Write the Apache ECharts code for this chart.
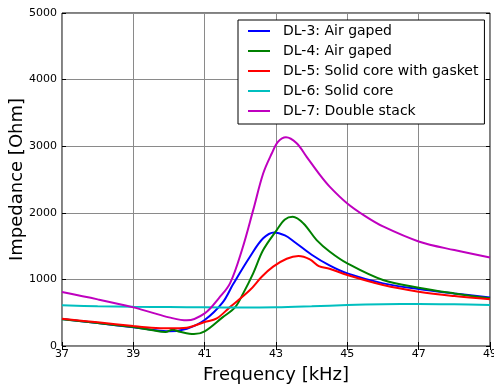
<!DOCTYPE html>
<html>
<head>
<meta charset="utf-8">
<script src="https://cdn.jsdelivr.net/npm/echarts@6/dist/echarts.min.js"></script>
<style>
  html, body { margin: 0; padding: 0; background: #fff; }
  #chart { width: 494px; height: 390px; }
</style>
</head>
<body>
<div id="chart"></div>
<script>
// frequency [kHz], impedance [Ohm]
const dl3 = [
  [37, 405], [38, 345], [39, 280], [39.5, 245], [40, 220], [40.5, 260], [41, 390],
  [41.5, 650], [41.8, 930], [42.27, 1340], [42.64, 1617], [42.95, 1705], [43.25, 1660],
  [43.5, 1570], [44, 1370], [44.5, 1210], [45, 1090], [46, 940], [47, 855], [48, 790], [49, 730]
]
const dl4 = [
  [37, 400], [38, 345], [39, 285], [39.5, 240], [39.9, 210], [40.1, 245], [40.3, 215],
  [40.7, 180], [41, 220], [41.5, 430], [41.85, 580], [42.08, 790], [42.36, 1090], [42.64, 1440],
  [43.02, 1740], [43.25, 1900], [43.47, 1940], [43.77, 1840], [44.14, 1590], [44.51, 1415],
  [45, 1240], [46, 990], [47, 876], [48, 790], [49, 716]
]
const dl5 = [
  [37, 410], [38, 355], [39, 300], [39.5, 275], [40, 265], [40.5, 275], [41, 360],
  [41.34, 415], [41.7, 580], [42.27, 840], [42.6, 1040], [42.92, 1191], [43.3, 1310], [43.63, 1350],
  [43.95, 1300], [44.2, 1200], [44.5, 1160], [45, 1066], [46, 916], [47, 816], [48, 750], [49, 701]
]
const dl6 = [
  [37, 610], [38, 598], [39, 590], [40, 585], [41, 580], [42, 578], [43, 582],
  [44, 597], [45, 615], [46, 628], [47, 632], [48, 626], [49, 615]
]
const dl7 = [
  [37, 810], [38, 700], [39, 580], [39.5, 505], [40, 430], [40.5, 385], [41, 490],
  [41.4, 720], [41.71, 940], [42.05, 1450], [42.36, 2040], [42.64, 2590], [42.88, 2890], [43.06, 3070],
  [43.28, 3135], [43.58, 3045], [43.86, 2840], [44.23, 2570], [44.51, 2390], [45, 2140],
  [45.5, 1950], [46, 1795], [47, 1570], [48, 1440], [49, 1330]
]
const names = [
  'DL-3: Air gaped', 'DL-4: Air gaped', 'DL-5: Solid core with gasket',
  'DL-6: Solid core', 'DL-7: Double stack'
]
const colors = ['#0000ff', '#008000', '#ff0000', '#00bfbf', '#bf00bf']
const seriesData = [dl3, dl4, dl5, dl6, dl7]

const font = 'DejaVu Sans'
const chart = echarts.init(document.getElementById('chart'), null, { renderer: 'canvas' })

const hiddenAxis = {
  type: 'value',
  axisLine: { show: false },
  axisTick: { show: true, inside: true, length: 4, lineStyle: { color: '#000' } },
  axisLabel: { show: false },
  splitLine: { show: false }
}

chart.setOption({
  animation: false,
  textStyle: { fontFamily: font },
  grid: {
    left: 62, right: 4, top: 13, bottom: 44,
    outerBoundsMode: 'none', containLabel: false,
    show: true, borderColor: '#000', borderWidth: 1
  },
  legend: {
    orient: 'vertical',
    left: 238, top: 20,
    data: names,
    icon: 'rect',
    itemWidth: 22, itemHeight: 2,
    itemGap: 0,
    padding: [1, 6, 3, 10],
    backgroundColor: '#fff',
    borderColor: '#000', borderWidth: 1, borderRadius: 0,
    textStyle: { fontFamily: font, fontSize: 14, color: '#000', lineHeight: 20, padding: [0, 0, 0, 8] }
  },
  xAxis: [{
    type: 'value', min: 37, max: 49, interval: 2,
    name: 'Frequency [kHz]', nameLocation: 'middle', nameGap: 20, nameMoveOverlap: false,
    nameTextStyle: { fontFamily: font, fontSize: 18, color: '#000' },
    axisLine: { show: false },
    axisTick: { inside: true, length: 4, lineStyle: { color: '#000' } },
    axisLabel: { fontFamily: font, fontSize: 11, color: '#000', margin: 3 },
    splitLine: { show: true, lineStyle: { color: '#8a8a8a', width: 1 } }
  }, Object.assign({ position: 'top', min: 37, max: 49, interval: 2 }, hiddenAxis)],
  yAxis: [{
    type: 'value', min: 0, max: 5000, interval: 1000,
    name: 'Impedance [Ohm]', nameLocation: 'middle', nameGap: 36, nameMoveOverlap: false,
    nameTextStyle: { fontFamily: font, fontSize: 18, color: '#000' },
    axisLine: { show: false },
    axisTick: { inside: true, length: 4, lineStyle: { color: '#000' } },
    axisLabel: { fontFamily: font, fontSize: 11, color: '#000', margin: 5, formatter: (v) => String(v) },
    splitLine: { show: true, lineStyle: { color: '#8a8a8a', width: 1 } }
  }, Object.assign({ position: 'right', min: 0, max: 5000, interval: 1000 }, hiddenAxis)],
  series: seriesData.map((d, i) => ({
    name: names[i],
    type: 'line',
    data: d,
    smooth: 0.35,
    showSymbol: false,
    symbol: 'none',
    itemStyle: { color: colors[i] },
    lineStyle: { color: colors[i], width: 2 }
  }))
})
</script>
</body>
</html>
